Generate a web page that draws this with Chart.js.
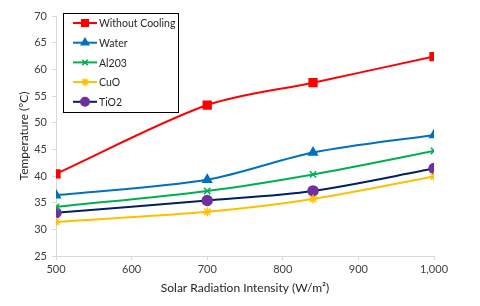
<!DOCTYPE html>
<html lang="en">
<head>
    <meta charset="UTF-8">
    <title>Temperature vs Solar Radiation</title>
    <style>
        body { margin: 0; background-color: #ffffff; }
        .chart-container { width: 480px; height: 306px; position: relative; }
    </style>
</head>
<body>
    <div class="chart-container"><canvas id="tempChart"></canvas></div>

    <script src="https://cdn.jsdelivr.net/npm/chart.js"></script>
    <script>
        const radiation = [500, 700, 840, 1000];
        const withoutCooling = [40.4, 53.3, 57.5, 62.4];
        const water = [36.4, 39.3, 44.4, 47.7];
        const al2o3 = [34.2, 37.2, 40.3, 44.7];
        const cuo = [31.4, 33.3, 35.7, 39.9];
        const tio2 = [33.1, 35.4, 37.2, 41.4];
        const xTicks = [500, 600, 700, 800, 900, 1000];

        const toPoints = arr => arr.map((v, i) => ({ x: radiation[i], y: v }));
        const FONT = 'Lato, "Open Sans", sans-serif';

        function series(label, values, line, fill, style, radius) {
            return {
                label: label, data: toPoints(values),
                borderColor: line, backgroundColor: fill,
                pointBorderColor: fill, pointBackgroundColor: fill,
                pointStyle: style, pointRadius: radius, pointBorderWidth: 1.5,
                borderWidth: 2, tension: 0.3, fill: false
            };
        }

        // legend drawn inside the plot, top left, like the original
        const boxLegend = {
            id: 'boxLegend',
            afterDraw(chart) {
                const ctx = chart.ctx;
                const left = chart.chartArea.left + 7, top = chart.chartArea.top - 3;
                const w = 115, h = 99;
                ctx.save();
                ctx.fillStyle = '#ffffff';
                ctx.fillRect(left, top, w, h);
                ctx.strokeStyle = '#000000';
                ctx.lineWidth = 1;
                ctx.strokeRect(left + 0.5, top + 0.5, w, h);
                ctx.font = '10.5px ' + FONT;
                ctx.textBaseline = 'middle';
                chart.data.datasets.forEach((ds, i) => {
                    const y = top + 10 + i * 19.7;
                    ctx.strokeStyle = ds.borderColor;
                    ctx.lineWidth = 2;
                    ctx.beginPath();
                    ctx.moveTo(left + 10, y);
                    ctx.lineTo(left + 34, y);
                    ctx.stroke();
                    ctx.fillStyle = ds.pointBackgroundColor;
                    ctx.strokeStyle = ds.pointBorderColor;
                    ctx.lineWidth = 1.5;
                    Chart.helpers.drawPoint(ctx, { pointStyle: ds.pointStyle, radius: ds.pointRadius * 0.85, borderWidth: 1.5 }, left + 22, y);
                    ctx.fillStyle = '#262626';
                    ctx.fillText(ds.label, left + 36, y + 1);
                });
                ctx.restore();
            }
        };

        new Chart(document.getElementById('tempChart').getContext('2d'), {
            type: 'line',
            data: {
                datasets: [
                    series('Without Cooling', withoutCooling, '#ff0000', '#ff0000', 'rect', 5.5),
                    series('Water', water, '#0070c0', '#0070c0', 'triangle', 5),
                    series('Al203', al2o3, '#00b050', '#00b050', 'crossRot', 4.5),
                    series('CuO', cuo, '#ffc000', '#ffc000', 'star', 4.5),
                    series('TiO2', tio2, '#002060', '#7030a0', 'circle', 5)
                ]
            },
            options: {
                responsive: true, maintainAspectRatio: false, animation: false,
                layout: { padding: { left: 0, right: 46, top: 16, bottom: 0 } },
                plugins: { legend: { display: false }, tooltip: { enabled: false } },
                scales: {
                    x: {
                        type: 'linear', min: 500, max: 1000,
                        afterBuildTicks: s => { s.ticks = xTicks.map(v => ({ value: v })); },
                        afterFit: s => { s.height = 50; },
                        grid: { drawOnChartArea: false, tickLength: 4, color: '#d9d9d9' },
                        border: { color: '#d9d9d9' },
                        ticks: { color: '#404040', font: { size: 11, family: FONT }, padding: 3 },
                        title: { display: true, text: 'Solar Radiation Intensity (W/m²)', color: '#262626', font: { size: 12, family: FONT }, padding: { top: 0, bottom: 11 } }
                    },
                    y: {
                        min: 25, max: 70,
                        ticks: { stepSize: 5, color: '#404040', font: { size: 11, family: FONT }, padding: 5 },
                        afterFit: s => { s.width = 56; },
                        grid: { drawOnChartArea: false, tickLength: 4, color: '#d9d9d9' },
                        border: { color: '#d9d9d9' },
                        title: { display: true, text: 'Temperature (°C)', color: '#262626', font: { size: 12, family: FONT }, padding: { top: 17, bottom: 0 } }
                    }
                }
            },
            plugins: [boxLegend]
        });
    </script>
</body>
</html>
